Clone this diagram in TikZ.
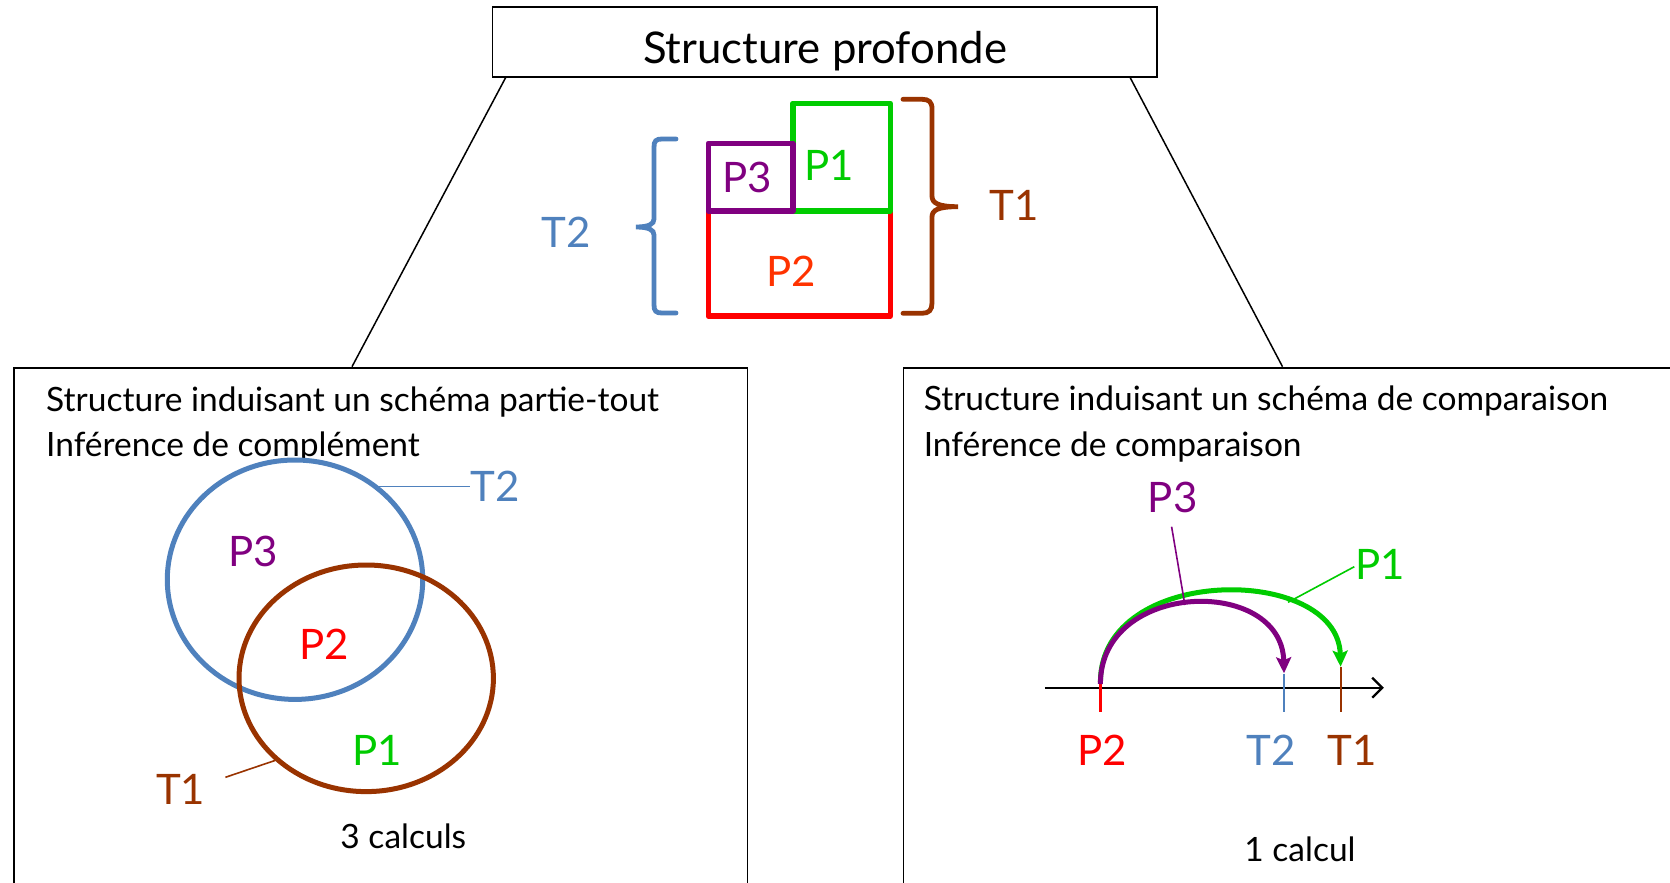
\documentclass[tikz,border=0pt]{standalone}
\usepackage{fontspec}
\setmainfont{Lato}
\usetikzlibrary{shapes.geometric,arrows.meta}
\definecolor{cblue}{HTML}{4F81BD}
\definecolor{cbrown}{HTML}{993300}
\definecolor{cgreen}{HTML}{00CC00}
\definecolor{cpurple}{HTML}{800080}
\definecolor{cred}{HTML}{FF0000}
\definecolor{corange}{HTML}{FF3300}
\tikzset{
  body/.style={font=\fontsize{33.5}{40}\selectfont, inner sep=0pt},
  lab/.style={font=\fontsize{42}{50}\selectfont, inner sep=0pt},
  titletext/.style={font=\fontsize{43.7}{52}\selectfont, inner sep=0pt},
  frame/.style={draw, line width=1.8pt, inner sep=0pt},
  part/.style={draw, line width=5.5pt, inner sep=0pt, line join=round, anchor=north west},
  brace/.style={line width=4.8pt, line cap=round},
  venn/.style={draw, ellipse, line width=5pt, inner sep=0pt},
  leader/.style={line width=1.6pt},
  tickline/.style={line width=2.2pt},
  jump/.style={line width=5pt, -{Stealth[length=16pt,width=15pt,inset=3pt]}},
  connector/.style={line width=1.5pt},
}
\begin{document}
\begin{tikzpicture}[x=1pt,y=-1pt]
\useasboundingbox (0,0) rectangle (1670,883);
\clip (0,0) rectangle (1670,883);
\fill[white] (0,0) rectangle (1670,883);

% top box
\node (top) [frame, minimum width=664.7pt, minimum height=69.4pt] at (824.9,42) {};
\node (title) [titletext, anchor=base] at (825,63.3) {Structure profonde};

% lower boxes
\node (lbox) [frame, anchor=north west, minimum width=733.5pt, minimum height=700pt] at (13,366.7) {};
\node (rbox) [frame, anchor=north west, minimum width=900pt, minimum height=700pt] at (902.5,366.7) {};

% connectors
\draw[connector] ([xshift=14pt]top.south west) -- ([xshift=339pt]lbox.north west);
\draw[connector] ([xshift=-28pt]top.south east) -- ([xshift=380pt]rbox.north west);

% deep structure parts
\node (p2r) [part, draw=cred, minimum width=182pt, minimum height=105pt] at (705.5,208.3) {};
\node (p1r) [part, draw=cgreen, minimum width=97.5pt, minimum height=107.8pt] at (790,100.5) {};
\node (p3r) [part, draw=cpurple, minimum width=84.5pt, minimum height=67.8pt] at (705.5,140.5) {};
\node (p3t) [lab, text=cpurple] at (747,177.5) {P3};
\node (p1t) [lab, text=cgreen] at (829,165) {P1};
\node (p2t) [lab, text=corange] at (791.5,271) {P2};

% braces
\draw[brace, cblue] (676,139) -- (662,139) .. controls (656,139) and (654,141) .. (654,147) -- (654,219)
  .. controls (654,224) and (649,227) .. (636,227) .. controls (649,227) and (654,230) .. (654,235)
  -- (654,305) .. controls (654,311) and (656,313) .. (662,313) -- (676,313);
\draw[brace, cbrown] (903,99.3) -- (922,99.3) .. controls (929,99.3) and (932,102) .. (932,109) -- (932,196)
  .. controls (932,203) and (938,206.7) .. (958,206.7) .. controls (938,206.7) and (932,210) .. (932,217)
  -- (932,303) .. controls (932,310) and (929,313.3) .. (922,313.3) -- (903,313.3);
\node (t2t) [lab, text=cblue] at (566,232.5) {T2};
\node (t1t) [lab, text=cbrown] at (1014,205) {T1};

% left panel
\node (l1) [body, anchor=base west] at (46,411.7) {Structure induisant un schéma partie-tout};
\node (l2) [body, anchor=base west] at (46,456.7) {Inférence de complément};
\node (vT2) [venn, draw=cblue, minimum width=255.4pt, minimum height=239.4pt] at (295,579.7) {};
\node (vT1) [venn, draw=cbrown, minimum width=254.4pt, minimum height=226.6pt] at (366.2,678.3) {};
\node (vT2lab) [lab, text=cblue, anchor=west] at (470,486) {T2};
\draw[leader, cblue] (vT2.48) -- (vT2.48 -| vT2lab.west);
\node (vT1lab) [lab, text=cbrown] at (180.7,789) {T1};
\coordinate (vT1end) at (225.4,777.3);
\draw[leader, cbrown] (vT1.222) -- (vT1end);
\node (vP3) [lab, text=cpurple] at (253.5,551.7) {P3};
\node (vP2) [lab, text=cred] at (323.8,644) {P2};
\node (vP1) [lab, text=cgreen] at (377,750) {P1};
\node (calc3) [body, anchor=base] at (403.3,848.3) {3 calculs};

% right panel
\node (r1) [body, anchor=base west] at (923.6,410) {Structure induisant un schéma de comparaison};
\node (r2) [body, anchor=base west] at (923.6,456) {Inférence de comparaison};
\coordinate (axL) at (1044.9,687.7);
\coordinate (axR) at (1383.8,687.7);
\draw[tickline, -{Straight Barb[length=10pt,width=20pt]}] (axL) -- (axR);
\coordinate (xP2) at (1100.4,687.7);
\coordinate (xT2) at (1284,687.7);
\coordinate (xT1) at (1340.6,687.7);
\draw[tickline, cred] ([yshift=6pt]xP2) -- ([yshift=-24pt]xP2);
\draw[tickline, cblue] ([yshift=14pt]xT2) -- ([yshift=-24pt]xT2);
\draw[tickline, cbrown] ([yshift=21pt]xT1) -- ([yshift=-24pt]xT1);
\draw[jump, cgreen] (1100.4,682) .. controls (1100.4,564) and (1338,564) .. (1340.6,666.7);
\draw[jump, cpurple] (1100.4,684) .. controls (1100.4,580) and (1282,576) .. (1284,673.3);
\node (rP3) [lab, text=cpurple] at (1172.6,497.5) {P3};
\coordinate (rP3end) at (1184.9,605);
\draw[leader, cpurple] (1171.6,526.7) -- (rP3end);
\node (rP1) [lab, text=cgreen] at (1380,564) {P1};
\coordinate (rP1end) at (1288,602.3);
\draw[leader, cgreen] (1354.3,566.7) -- (rP1end);
\node (rP2) [lab, text=cred] at (1102,750.5) {P2};
\node (rT2) [lab, text=cblue] at (1271,750.5) {T2};
\node (rT1) [lab, text=cbrown] at (1352.5,750.5) {T1};
\node (calc1) [body, anchor=base] at (1300,861.7) {1 calcul};
\end{tikzpicture}
\end{document}
